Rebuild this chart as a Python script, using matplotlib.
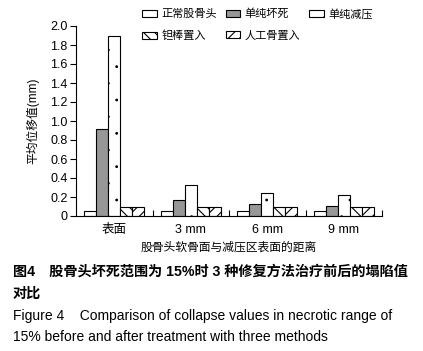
import matplotlib
matplotlib.use("Agg")
import matplotlib.pyplot as plt
import matplotlib.hatch as mhatch
import numpy as np

plt.rcParams['font.family'] = ['Liberation Sans', 'Noto Sans CJK SC', 'DejaVu Sans']
plt.rcParams['hatch.linewidth'] = 0.8


class TinyDots(mhatch.Circles):
    filled = True
    size = 0.05

    def __init__(self, hatch, density):
        self.num_rows = hatch.count('.') * density
        super().__init__(hatch, density)


mhatch._hatch_types = [TinyDots if t is mhatch.SmallFilledCircles else t
                       for t in mhatch._hatch_types]

categories = ['表面', '3 mm', '6 mm', '9 mm']
series_names = ['正常股骨头', '单纯坏死', '单纯减压', '钽棒置入', '人工骨置入']
normal = [0.05, 0.05, 0.05, 0.05]
necrosis = [0.92, 0.17, 0.13, 0.11]
decompression = [1.90, 0.33, 0.24, 0.22]
tantalum = [0.09, 0.09, 0.09, 0.09]
artificial = [0.09, 0.09, 0.09, 0.09]
yticks = [0, 0.2, 0.4, 0.6, 0.8, 1.0, 1.2, 1.4, 1.6, 1.8, 2.0]
ytick_labels = ['0', '0.2', '0.4', '0.6', '0.8', '1.0', '1.2', '1.4', '1.6', '1.8', '2.0']

series = [normal, necrosis, decompression, tantalum, artificial]
colors = ['white', '#979797', 'white', 'white', 'white']
hatches = [None, None, '.', '\\\\\\', '///']

fig = plt.figure(figsize=(4.23, 3.51), dpi=100)
ax = fig.add_axes([76/423, 1-216/351, (382-76)/423, (216-26)/351])

x = np.arange(len(categories)) + 0.5
w = 0.157
handles = []
for i, (vals, c, h, name) in enumerate(zip(series, colors, hatches, series_names)):
    b = ax.bar(x + (i - 2) * w, vals, w, color=c, edgecolor='black', linewidth=0.8,
               hatch=h, label=name)
    handles.append(b)

ax.set_xlim(0, 4)
ax.set_ylim(0, 2.0)
ax.set_yticks(yticks)
ax.set_yticklabels(ytick_labels, fontsize=9)
ax.set_xticks(x)
ax.set_xticklabels(categories, fontsize=9)
ax.tick_params(axis='x', length=0, pad=6)
ax.set_xticks([1, 2, 3, 4], minor=True)
ax.tick_params(axis='x', which='minor', direction='in', length=4, width=0.8)
ax.tick_params(axis='y', direction='out', length=4, width=0.8, pad=2)
ax.spines['top'].set_visible(False)
ax.spines['right'].set_visible(False)
for s in ['left', 'bottom']:
    ax.spines[s].set_linewidth(0.8)

ax.set_ylabel('平均位移值(mm)', fontsize=8.5, labelpad=8)
ax.set_xlabel('股骨头软骨面与减压区表面的距离', fontsize=8.5, labelpad=4)

order = [0, 3, 1, 4, 2]
leg = fig.legend([handles[i] for i in order], [series_names[i] for i in order],
                 ncol=3, loc='upper left', bbox_to_anchor=(138/423, 1 - 4/351),
                 frameon=False, fontsize=8, handlelength=1.3, handleheight=0.6,
                 handletextpad=0.4, columnspacing=0.8, labelspacing=1.0,
                 borderaxespad=0)

fig.text(13/423, 1 - 272/351, '图4　股骨头坏死范围为 15%时 3 种修复方法治疗前后的塌陷值',
         fontsize=10.2, fontweight='bold', va='center', ha='left')
fig.text(13/423, 1 - 294/351, '对比', fontsize=10.2, fontweight='bold', va='center', ha='left')
fig.text(13/423, 1 - 316/351, 'Figure 4    Comparison of collapse values in necrotic range of',
         fontsize=10, va='center', ha='left')
fig.text(13/423, 1 - 337/351, '15% before and after treatment with three methods',
         fontsize=10, va='center', ha='left')

fig.savefig('out.png', dpi=100)
